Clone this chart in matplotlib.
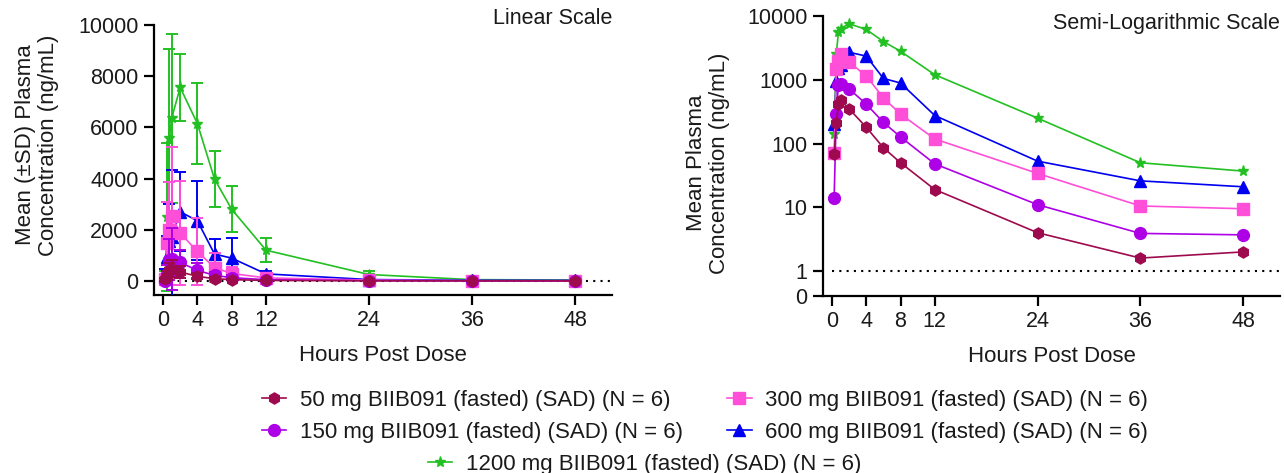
import matplotlib
matplotlib.use('Agg')
import matplotlib.pyplot as plt
from matplotlib.lines import Line2D

plt.rcParams['font.family'] = ['Liberation Sans', 'DejaVu Sans']

# ---------------- data ----------------
hours = [0.25, 0.5, 0.75, 1, 2, 4, 6, 8, 12, 24, 36, 48]
x_ticks = [0, 4, 8, 12, 24, 36, 48]

labels = ['50 mg BIIB091 (fasted) (SAD) (N = 6)',
          '150 mg BIIB091 (fasted) (SAD) (N = 6)',
          '300 mg BIIB091 (fasted) (SAD) (N = 6)',
          '600 mg BIIB091 (fasted) (SAD) (N = 6)',
          '1200 mg BIIB091 (fasted) (SAD) (N = 6)']

mean_50 = [68, 210, 420, 480, 350, 180, 86, 50, 19, 4.0, 1.6, 2.0]
sd_50 = [60, 180, 280, 320, 230, 120, 55, 30, 11, 3, 1.2, 1.5]
mean_150 = [14, 290, 830, 860, 720, 415, 215, 127, 48, 11, 3.9, 3.7]
sd_150 = [20, 350, 800, 1200, 480, 300, 150, 90, 35, 8, 3, 3]
mean_300 = [70, 1470, 2000, 2550, 1880, 1150, 520, 290, 118, 34, 10.5, 9.5]
sd_300 = [80, 1610, 1870, 2700, 2030, 1300, 580, 260, 90, 25, 8, 7]
mean_600 = [203, 940, 1550, 1700, 2700, 2350, 1050, 890, 275, 53, 26, 21]
sd_600 = [250, 800, 1440, 2640, 1550, 1550, 600, 800, 130, 40, 18, 15]
mean_1200 = [140, 2500, 5600, 6350, 7560, 6150, 3980, 2800, 1200, 250, 50, 37]
sd_1200 = [250, 2900, 3450, 3300, 1300, 1600, 1090, 900, 480, 120, 30, 25]

means = [mean_50, mean_150, mean_300, mean_600, mean_1200]
sds = [sd_50, sd_150, sd_300, sd_600, sd_1200]

lin_yticks = [0, 2000, 4000, 6000, 8000, 10000]
log_yticks = [0.407, 1, 10, 100, 1000, 10000]
log_yticklabels = ['0', '1', '10', '100', '1000', '10000']
ref_left = 0
ref_right = 1

# ---------------- style ----------------
colors = ['#9E0A4E', '#AE00E6', '#FF4FD8', '#0000F0', '#22C022']
markers = ['h', 'o', 's', '^', '*']
msizes = [8, 8.5, 8, 8, 8]

W, H = 1284, 473
fig = plt.figure(figsize=(W / 100, H / 100), dpi=100)


def frac(x0, y0, x1, y1):
    return [x0 / W, 1 - y1 / H, (x1 - x0) / W, (y1 - y0) / H]


axL = fig.add_axes(frac(154, 25, 612, 295))
axR = fig.add_axes(frac(823, 16, 1280, 296))

FS = 15.5
TXT = '#1a1a1a'
for ax in (axL, axR):
    for s in ('top', 'right'):
        ax.spines[s].set_visible(False)
    for s in ('left', 'bottom'):
        ax.spines[s].set_linewidth(1.6)
    ax.tick_params(axis='both', which='major', length=7, width=1.6,
                   labelsize=FS, color='black', labelcolor=TXT, pad=4)
    ax.tick_params(axis='both', which='minor', length=0)
    ax.set_xticks(x_ticks)
    ax.set_xlim(-1.05, 52.3)
    ax.set_xlabel('Hours Post Dose', fontsize=FS + 0.5, labelpad=10, color=TXT)

# linear plot (reverse order so lowest dose is on top)
for i in reversed(range(5)):
    axL.errorbar(hours, means[i], yerr=sds[i], color=colors[i],
                 marker=markers[i], markersize=msizes[i], linewidth=1.2,
                 elinewidth=1.4, capsize=4.5, capthick=1.4, zorder=3 + (5 - i))
axL.axhline(ref_left, xmin=1.05 / 53.35, color='black', linestyle=(0, (1, 2.5)),
            linewidth=1.5, zorder=2)
axL.set_ylim(-550, 10000)
axL.set_yticks(lin_yticks)
axL.text(1.0, 1.025, 'Linear Scale', transform=axL.transAxes, ha='right',
         va='center', fontsize=FS, color=TXT)

# semi-log plot
for i in reversed(range(5)):
    axR.plot(hours, means[i], color=colors[i], marker=markers[i],
             markersize=msizes[i], linewidth=1.2, zorder=3 + (5 - i))
axR.set_yscale('log')
axR.set_ylim(0.407, 10000)
axR.set_yticks(log_yticks)
axR.set_yticklabels(log_yticklabels)
axR.minorticks_off()
axR.axhline(ref_right, xmin=1.05 / 53.35, color='black', linestyle=(0, (1, 2.5)),
            linewidth=1.5, zorder=2)
axR.text(1.0, 0.974, 'Semi-Logarithmic Scale', transform=axR.transAxes,
         ha='right', va='center', fontsize=FS, color=TXT)

# y labels
fig.text(37 / W, 1 - 145 / H, 'Mean (\u00b1SD) Plasma\nConcentration (ng/mL)',
         rotation=90, ha='center', va='center', fontsize=FS + 0.5,
         linespacing=1.15, color=TXT)
fig.text(708 / W, 1 - 163 / H, 'Mean Plasma\nConcentration (ng/mL)',
         rotation=90, ha='center', va='center', fontsize=FS + 0.5,
         linespacing=1.15, color=TXT)

# legend
handles = [Line2D([], [], color=colors[i], marker=markers[i],
                  markersize=msizes[i], linewidth=1.2, label=labels[i])
           for i in range(5)]
leg_kw = dict(frameon=False, fontsize=FS + 0.5, handlelength=1.1,
              handletextpad=0.6, borderpad=0, borderaxespad=0,
              labelspacing=0.5, labelcolor=TXT)
fig.legend([handles[0], handles[1], handles[2], handles[3]],
           [labels[0], labels[1], labels[2], labels[3]],
           loc='upper left', bbox_to_anchor=(262 / W, 1 - 390 / H),
           ncol=2, columnspacing=2.0, **leg_kw)
fig.legend([handles[4]], [labels[4]], loc='upper left',
           bbox_to_anchor=(428 / W, 1 - 454 / H), **leg_kw)

fig.savefig('out.png', dpi=100)
